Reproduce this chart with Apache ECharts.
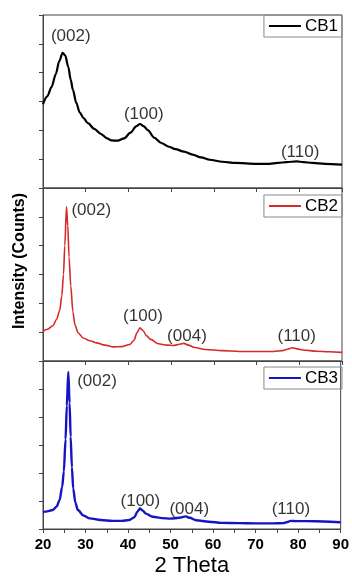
<!DOCTYPE html>
<html>
<head>
<meta charset="utf-8">
<script src="https://cdn.jsdelivr.net/npm/echarts@6/dist/echarts.min.js"></script>
<style>
  html, body { margin: 0; padding: 0; background: #fff; }
  #chart { width: 352px; height: 578px; }
</style>
</head>
<body>
<div id="chart"></div>
<script>
// XRD patterns, 2-theta vs intensity (arbitrary counts)
const cb1 = [
  [20, 291], [21, 318], [22, 350], [23, 395], [23.8, 440], [24.6, 469], [25.2, 460],
  [25.9, 421], [26.5, 375], [27.0, 340], [27.8, 295], [28.6, 262], [29.5, 242],
  [30.5, 225], [32, 205], [33.5, 188], [35, 172], [36, 165], [37.5, 164], [39, 172],
  [40.5, 192], [41.8, 214], [42.7, 222], [43.6, 214], [44.6, 200], [46, 175],
  [47.7, 156], [49.5, 143], [51, 135], [53, 126], [55, 116], [57, 106], [59, 98],
  [62, 91], [65, 87], [70, 84], [73, 84], [75, 87], [77, 90], [79.4, 92], [81, 90],
  [83, 87], [86, 84], [90, 81]
];
const cb2 = [
  [20, 103], [21, 110], [22.3, 122], [23.2, 145], [23.9, 175], [24.4, 225], [24.8, 300],
  [25.1, 400], [25.5, 535], [25.8, 470], [26.1, 360], [26.5, 260], [27.0, 170],
  [27.5, 125], [28.2, 98], [29.4, 80], [31, 70], [32.5, 63], [34.5, 55], [36.5, 49],
  [38.5, 50], [40.3, 57], [41.3, 72], [42.0, 98], [42.7, 115], [43.4, 106], [44.2, 88],
  [45.2, 75], [47, 60], [49, 55], [50.5, 54], [52, 58], [53, 61], [54, 55], [55.5, 47],
  [58, 40], [62, 36], [66, 33], [70, 33], [74, 33], [76, 36], [77.2, 41], [78.4, 46],
  [79.5, 42], [81, 38], [84, 34], [87, 32], [90, 30]
];
const cb3 = [
  [20, 61], [21, 63], [22.3, 68], [23.2, 80], [23.9, 103], [24.5, 150], [24.9, 205],
  [25.3, 320], [25.6, 440], [25.95, 561], [26.25, 450], [26.5, 330], [26.8, 220],
  [27.1, 145], [27.6, 95], [28.2, 68], [29.5, 48], [31, 38], [33.5, 32], [36.4, 29],
  [38.5, 29], [40.3, 32], [41.5, 42], [42.2, 62], [42.8, 73], [43.4, 66], [44.2, 55],
  [45.8, 44], [48, 39], [50, 37], [52, 40], [53.6, 45], [54.5, 40], [56, 31], [59, 26],
  [62, 22], [66, 21], [70, 20], [74, 20], [76.5, 21], [77.5, 25], [78.2, 29],
  [79.5, 28], [82, 28], [86, 27], [90, 24]
];

// peak labels: [x, y, text]
const peaks1 = [[26.5, 525, '(002)'], [43.6, 254, '(100)'], [80.2, 123, '(110)']];
const peaks2 = [[31.3, 521, '(002)'], [43.4, 155, '(100)'], [53.7, 86, '(004)'], [79.4, 84, '(110)']];
const peaks3 = [[32.7, 527, '(002)'], [42.9, 100, '(100)'], [54.4, 72, '(004)'], [78.3, 72, '(110)']];

const names = ['CB1', 'CB2', 'CB3'];
const colors = ['#000000', '#d42a2a', '#1414c4'];
const xTicks = [20, 30, 40, 50, 60, 70, 80, 90];

const FONT = '"Liberation Sans", Arial, sans-serif';
const frame = '#444';
const gridTops = [15, 188, 361];

const chart = echarts.init(document.getElementById('chart'));

const grids = gridTops.map(t => ({
  left: 43, right: 10, top: t, height: 173,
  show: true, borderColor: frame, borderWidth: 1, backgroundColor: 'transparent'
}));

const xAxes = gridTops.map((t, i) => {
  const last = i === 2;
  return {
    type: 'value', gridIndex: i, min: xTicks[0], max: xTicks[xTicks.length - 1], interval: 10,
    axisLine: {lineStyle: {color: frame, width: 1}},
    axisTick: {show: true, length: 4, lineStyle: {color: frame}},
    minorTick: {show: last, splitNumber: 2, length: 4, lineStyle: {color: frame}},
    splitLine: {show: false},
    axisLabel: {
      show: last, margin: 8, color: '#000', fontSize: 15, fontWeight: 'bold', fontFamily: FONT
    },
    name: last ? '2 Theta' : '',
    nameLocation: 'middle', nameGap: 26,
    nameTextStyle: {fontSize: 22, color: '#000', fontFamily: FONT}
  };
});

const yAxes = gridTops.map((t, i) => ({
  type: 'value', gridIndex: i, min: 0, max: 600, interval: 100,
  axisLine: {show: true, lineStyle: {color: frame, width: 1}},
  axisTick: {show: true, length: 4, lineStyle: {color: frame}},
  axisLabel: {show: false},
  splitLine: {show: false}
}));

const curves = [cb1, cb2, cb3];
const widths = [2.2, 1.6, 2.4];
const peakSets = [peaks1, peaks2, peaks3];

const series = [];
curves.forEach((d, i) => {
  series.push({
    name: names[i], type: 'line', xAxisIndex: i, yAxisIndex: i, data: d,
    showSymbol: false, smooth: 0.3, smoothMonotone: 'x',
    lineStyle: {color: colors[i], width: widths[i]},
    itemStyle: {color: colors[i]},
    animation: false
  });
});
peakSets.forEach((p, i) => {
  series.push({
    name: 'peaks' + i, type: 'scatter', xAxisIndex: i, yAxisIndex: i, data: p,
    symbolSize: 0, silent: true,
    label: {
      show: true, position: 'inside', formatter: q => q.data[2],
      color: '#000', fontSize: 17, fontFamily: FONT
    },
    animation: false
  });
});

const legends = gridTops.map((t, i) => ({
  data: [names[i]], right: 10, top: [15, 195, 367][i],
  orient: 'horizontal', icon: 'rect', itemWidth: 32, itemHeight: 2, itemGap: 4,
  borderColor: '#888', borderWidth: 1, padding: [2, 4, 2, 5], selectedMode: false,
  textStyle: {fontSize: 17, color: '#000', fontFamily: FONT, lineHeight: 18, padding: [0, 0, 0, -1]}
}));

chart.setOption({
  backgroundColor: '#fff',
  animation: false,
  grid: grids,
  xAxis: xAxes,
  yAxis: yAxes,
  legend: legends,
  series: series,
  graphic: [{
    type: 'text', x: 20, y: 261, rotation: Math.PI / 2,
    style: {
      text: 'Intensity (Counts)', fill: '#000', font: 'bold 16px ' + FONT,
      textAlign: 'center', textVerticalAlign: 'middle'
    }
  }]
});
</script>
</body>
</html>
